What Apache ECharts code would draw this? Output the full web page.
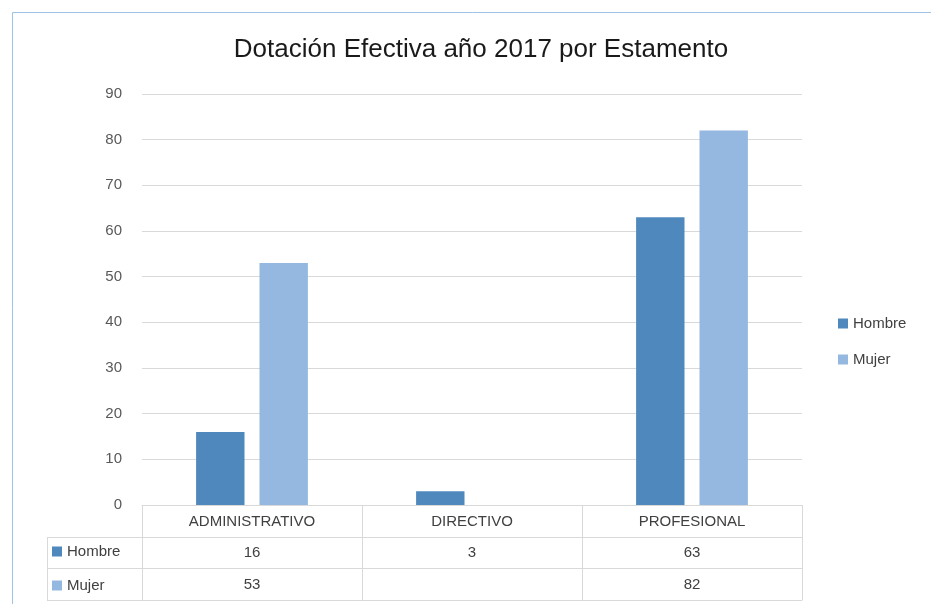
<!DOCTYPE html>
<html>
<head>
<meta charset="utf-8">
<script src="https://cdn.jsdelivr.net/npm/echarts@6/dist/echarts.min.js"></script>
<style>html,body{margin:0;padding:0;background:#fff;}#c{width:931px;height:604px;}</style>
</head>
<body>
<div id="c"></div>
<script>
const titleText = 'Dotación Efectiva año 2017 por Estamento';
const categories = ['ADMINISTRATIVO', 'DIRECTIVO', 'PROFESIONAL'];
const seriesNames = ['Hombre', 'Mujer'];
const hombre = [16, 3, 63];
const mujer = [53, null, 82];
const yMax = 90;
const yInterval = 10;

const colors = ['#4f88bd', '#95b8e0'];
const FONT = 'Liberation Sans';
const gridCol = '#d9d9d9';
const txt = '#404040';
const fmtCell = v => (v == null ? '' : String(v));

const chart = echarts.init(document.getElementById('c'), null, {renderer: 'canvas'});
const tableAxis = (data, offset, showLabel, margin) => ({
  type: 'category', data: data, position: 'bottom', offset: offset,
  boundaryGap: true,
  axisLine: {show: true, lineStyle: {color: gridCol, width: 1}},
  axisTick: {show: false},
  axisLabel: {show: showLabel, color: txt, fontFamily: FONT, fontSize: 15, margin: margin},
  splitLine: {show: false}
});
const legendText = {fontFamily: FONT, fontSize: 15, color: txt};

chart.setOption({
  animation: false,
  backgroundColor: '#fff',
  title: {
    text: titleText, left: 476, top: 32, textAlign: 'center',
    textStyle: {fontFamily: FONT, fontSize: 26, fontWeight: 'normal', color: '#1a1a1a'}
  },
  color: colors,
  legend: [
    {data: seriesNames, orient: 'vertical', left: 838, top: 316, padding: 0, itemWidth: 10, itemHeight: 10, itemGap: 21,
     icon: 'rect', textStyle: legendText, selectedMode: false},
    {data: [seriesNames[0]], left: 52, top: 544, padding: 0, itemWidth: 10, itemHeight: 10, icon: 'rect',
     textStyle: legendText, selectedMode: false},
    {data: [seriesNames[1]], left: 52, top: 578, padding: 0, itemWidth: 10, itemHeight: 10, icon: 'rect',
     textStyle: legendText, selectedMode: false}
  ],
  grid: {left: 142, right: 129, top: 94, bottom: 99, containLabel: false},
  xAxis: [
    {
      type: 'category', data: categories, position: 'bottom', boundaryGap: true,
      axisLine: {show: true, lineStyle: {color: gridCol, width: 1}},
      axisTick: {show: true, alignWithLabel: false, inside: false, length: 95, lineStyle: {color: gridCol, width: 1}},
      axisLabel: {color: txt, fontFamily: FONT, fontSize: 15, margin: 9}
    },
    tableAxis(hombre.map(fmtCell), 32, true, 8),
    tableAxis(mujer.map(fmtCell), 63, true, 9),
    tableAxis(categories, 95, false, 8)
  ],
  yAxis: {
    type: 'value', min: 0, max: yMax, interval: yInterval,
    axisLine: {show: false}, axisTick: {show: false},
    axisLabel: {color: '#595959', fontFamily: FONT, fontSize: 15, margin: 20},
    splitLine: {lineStyle: {color: gridCol, width: 1}}
  },
  series: [
    {name: seriesNames[0], type: 'bar', data: hombre, barWidth: '22%', barGap: '31%', xAxisIndex: 0},
    {name: seriesNames[1], type: 'bar', data: mujer, barWidth: '22%', barGap: '31%', xAxisIndex: 0}
  ],
  graphic: [
    {type: 'rect', shape: {x: 12.5, y: 12.5, width: 1000, height: 1000}, style: {fill: 'none', stroke: '#9dc3e6', lineWidth: 1}, silent: true},
    {type: 'line', shape: {x1: 47, y1: 537.5, x2: 142, y2: 537.5}, style: {stroke: gridCol, lineWidth: 1}},
    {type: 'line', shape: {x1: 47, y1: 568.5, x2: 142, y2: 568.5}, style: {stroke: gridCol, lineWidth: 1}},
    {type: 'line', shape: {x1: 47, y1: 600.5, x2: 142, y2: 600.5}, style: {stroke: gridCol, lineWidth: 1}},
    {type: 'line', shape: {x1: 47.5, y1: 537, x2: 47.5, y2: 600}, style: {stroke: gridCol, lineWidth: 1}}
  ]
});
</script>
</body>
</html>
